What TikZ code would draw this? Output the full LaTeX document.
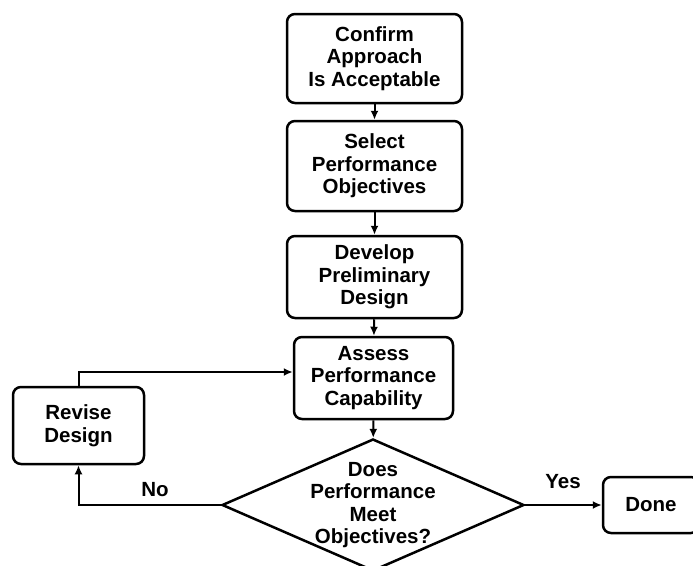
\documentclass[tikz,border=0pt]{standalone}
\usepackage{fontspec}
\setmainfont{Liberation Sans}
\usetikzlibrary{shapes.geometric,arrows.meta}

\tikzset{
  bodytext/.style={font=\fontsize{20.5}{22.5}\selectfont\bfseries, align=center},
  stagebox/.style={bodytext, draw=black, line width=2.5pt, rounded corners=8pt, inner sep=0pt},
  decision/.style={diamond, draw=black, line width=2.5pt, inner sep=0pt,
    minimum width=302pt, minimum height=132pt},
  flow/.style={line width=2pt, -{Latex[length=9pt,width=8pt]}},
  branch/.style={bodytext, inner sep=0pt}
}

\begin{document}
\begin{tikzpicture}[x=1pt, y=-1pt]
% picture frame, in pixels of the original
\useasboundingbox (0,0) rectangle (693,565);
\def\mainw{175pt}
% Main column
\node[stagebox, minimum width=\mainw, minimum height=89pt] (confirm) at (374.5,58.5) {Confirm\\Approach\\Is Acceptable};
\node[stagebox, minimum width=\mainw, minimum height=90pt] (select) at (374.5,166) {Select\\Performance\\Objectives};
\node[stagebox, minimum width=\mainw, minimum height=82pt] (develop) at (374.5,277) {Develop\\Preliminary\\Design};
\node[stagebox, minimum width=159pt, minimum height=82pt] (assess) at (373.5,378) {Assess\\Performance\\Capability};
\node[decision, label={[bodytext]center:Does\\Performance\\Meet\\Objectives?}] (check) at (373,505) {};
% Side boxes
\node[stagebox, minimum width=131pt, minimum height=77pt] (revise) at (78.5,425.5) {Revise\\Design};
\node[stagebox, minimum width=96pt, minimum height=56pt] (done) at (651,505) {Done};
% Connectors
\draw[flow] (confirm) -- (select);
\draw[flow] (select) -- (develop);
\draw[flow] (develop) -- (assess);
\draw[flow] (assess) -- (check);
\draw[flow] (check.west) -| (revise.south);
\draw[flow] (revise.north) |- ([yshift=6pt]assess.west);
\draw[flow] (check.east) -- (done.west);
% Branch labels
\node[branch] (no) at (155,490) {No};
\node[branch] (yes) at (563,482) {Yes};
\end{tikzpicture}
\end{document}
